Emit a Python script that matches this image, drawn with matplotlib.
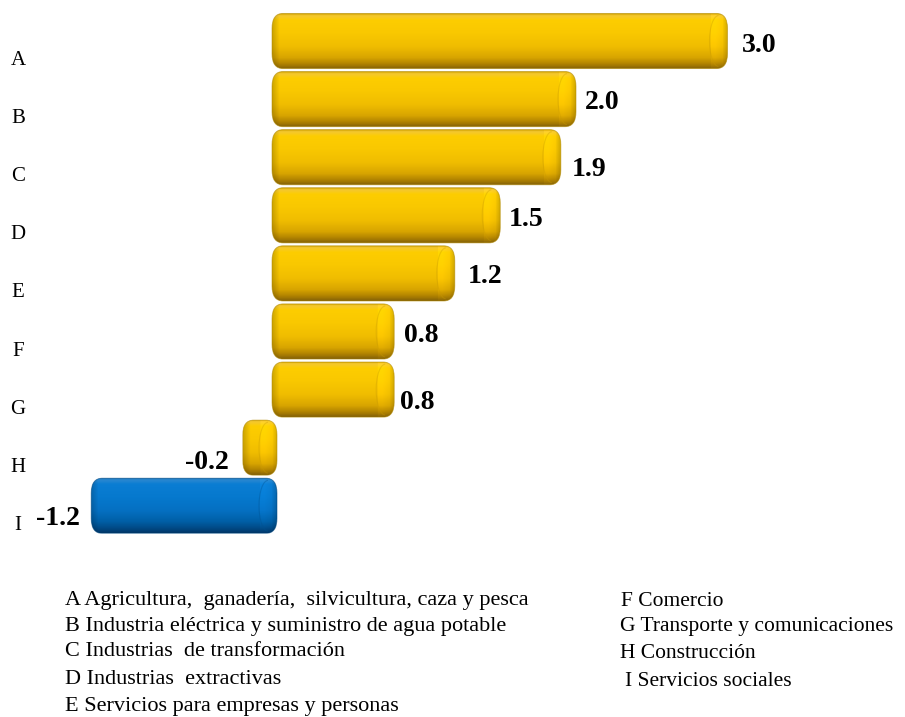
import numpy as np
import matplotlib
matplotlib.use('Agg')
import matplotlib.pyplot as plt
from matplotlib.patches import FancyBboxPatch, Arc
from matplotlib.colors import LinearSegmentedColormap

# ---------------- data ----------------
categories = ['A', 'B', 'C', 'D', 'E', 'F', 'G', 'H', 'I']
values = [3.0, 2.0, 1.9, 1.5, 1.2, 0.8, 0.8, -0.2, -1.2]
value_labels = ['3.0', '2.0', '1.9', '1.5', '1.2', '0.8', '0.8', '-0.2', '-1.2']
bar_kind = ['gold', 'gold', 'gold', 'gold', 'gold', 'gold', 'gold', 'gold', 'blue']
legend_left = [
    'A Agricultura,  ganadería,  silvicultura, caza y pesca',
    'B Industria eléctrica y suministro de agua potable',
    'C Industrias  de transformación',
    'D Industrias  extractivas',
    'E Servicios para empresas y personas',
]
legend_right = [
    'F Comercio',
    'G Transporte y comunicaciones',
    'H Construcción',
    'I Servicios sociales',
]

# label placement offsets (pixels) as in the reference
label_dx_px = [14, 9, 11, 8, 13, 10, 6, 14, 11]
label_dy_px = [4, 3, 12, 4, 3, 4, 13, 15, 13]

plt.rcParams['font.family'] = ['Liberation Serif', 'DejaVu Serif']

W, H = 905, 717
fig = plt.figure(figsize=(W / 100, H / 100), dpi=100)
ax_bottom_px = 560
ax = fig.add_axes([0, (H - ax_bottom_px) / H, 1, ax_bottom_px / H])
ax.set_axis_off()

ZERO_PX = 273.0
SX = 151.5          # px per unit in x
SY = 58.1           # px per category in y
PX_X = 1 / SX
PX_Y = 1 / SY
xlim = (-ZERO_PX * PX_X, (W - ZERO_PX) * PX_X)
ylim = ((ax_bottom_px - 41) * PX_Y, -41 * PX_Y)

cmaps = {
    'gold': LinearSegmentedColormap.from_list('gold', [
        (0.0, '#D2A400'), (0.04, '#F4C830'), (0.12, '#FDCD00'), (0.35, '#F9C800'),
        (0.6, '#F0BD00'), (0.8, '#D8A500'), (0.92, '#B08200'), (1.0, '#876408')]),
    'blue': LinearSegmentedColormap.from_list('blue', [
        (0.0, '#0060A8'), (0.04, '#2A88D0'), (0.12, '#0A7DD3'), (0.35, '#0679CE'),
        (0.6, '#0570C2'), (0.8, '#005FA6'), (0.92, '#004A86'), (1.0, '#00386A')]),
}
edge = {'gold': '#B08800', 'blue': '#00467E'}
cap_line = {'gold': '#C89A00', 'blue': '#00508E'}

ypos = np.arange(len(categories))
bars = ax.barh(ypos, values, height=0.95, color='none', edgecolor='none')

r_x = 11 * PX_X
r_y = 15 * PX_Y
for rect, kind in zip(bars.patches, bar_kind):
    x0, y0 = rect.get_x(), rect.get_y()
    w, h = rect.get_width(), rect.get_height()
    if w < 0:
        x0, w = x0 + w, -w
        w += 4 * PX_X
    else:
        x0 -= 1 * PX_X
        w += 1 * PX_X
    patch = FancyBboxPatch((x0, y0), w, h,
                           boxstyle=f'round,pad=0,rounding_size={r_x}',
                           mutation_aspect=r_y / r_x,
                           facecolor='none', edgecolor=edge[kind],
                           linewidth=0.6, alpha=0.6, zorder=3)
    ax.add_patch(patch)
    # 2D shaded image: vertical cylinder gradient x horizontal end shading
    nx = max(int(round(w * SX)), 2)
    ny = max(int(round(h * SY)), 2)
    vcol = cmaps[kind](np.linspace(0, 1, ny))[:, :3]
    xs = np.arange(nx)
    hf = np.ones(nx)
    hf *= np.clip(0.82 + 0.18 * xs / 7.0, 0.82, 1.0)               # left end darker
    dr = (nx - 1) - xs                                               # distance to right end
    hf *= np.where(dr < 17, 1.0 + 0.05 * np.clip((dr - 4) / 8.0, 0, 1), 1.0)
    hf *= np.where(dr < 5, 0.84 + 0.16 * dr / 5.0, 1.0)             # right edge darker
    img = np.clip(vcol[:, None, :] * hf[None, :, None], 0, 1)
    im = ax.imshow(img, aspect='auto', origin='upper',
                   extent=(x0, x0 + w, y0 + h, y0), zorder=2,
                   interpolation='bilinear')
    im.set_clip_path(patch)
    # cylinder end cap outline
    cap = Arc((x0 + w - 9 * PX_X, y0 + h / 2), 18 * PX_X, h * 0.92,
              theta1=90, theta2=270, color=cap_line[kind], linewidth=0.8,
              alpha=0.35, zorder=4)
    ax.add_patch(cap)
    cap.set_clip_path(patch)

# value labels
for yi, v, lab, dx, dy in zip(ypos, values, value_labels, label_dx_px, label_dy_px):
    if v >= 0:
        ax.text(v + dx * PX_X, yi + dy * PX_Y, lab, ha='left', va='center',
                fontsize=20, fontweight='bold', color='black')
    else:
        ax.text(v - dx * PX_X, yi + dy * PX_Y, lab, ha='right', va='center',
                fontsize=20, fontweight='bold', color='black')

# category labels (offset below bar centres, as in the reference)
for yi, c in zip(ypos, categories):
    ax.text(-255 * PX_X, yi + 19.5 * PX_Y, c, ha='center', va='center',
            fontsize=15, color='black')

ax.set_xlim(*xlim)
ax.set_ylim(*ylim)

# legend text
left_y = [601, 626, 652, 679, 706]
for t, yy in zip(legend_left, left_y):
    fig.text(65 / W, 1 - yy / H, t, ha='left', va='center', fontsize=16)
right_y = [601, 627, 654, 681]
right_x = [621, 620, 620, 625]
for t, yy, xx in zip(legend_right, right_y, right_x):
    fig.text(xx / W, 1 - yy / H, t, ha='left', va='center', fontsize=15.5)

fig.savefig('out.png', dpi=100, facecolor='white')
